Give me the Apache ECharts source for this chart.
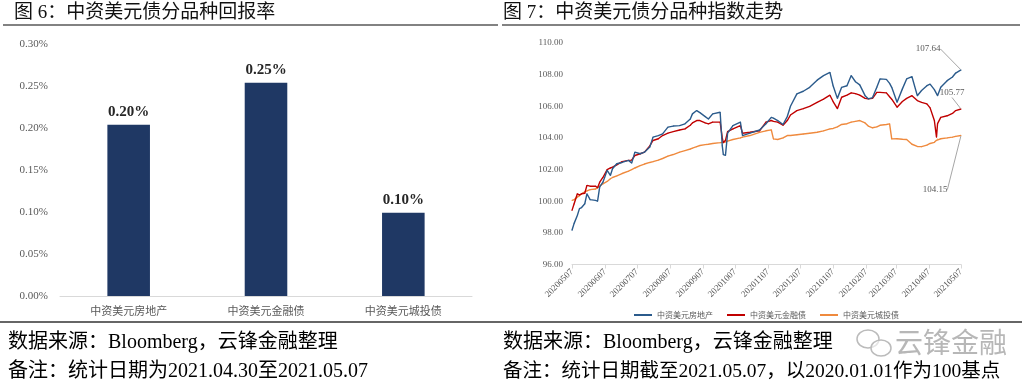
<!DOCTYPE html>
<html><head><meta charset="utf-8">
<script src="https://cdn.jsdelivr.net/npm/echarts@6/dist/echarts.min.js"></script>
<style>html,body{margin:0;padding:0;background:#fff}#c{width:1022px;height:383px}</style>
</head><body><div id="c"></div>
<script>
// ---- Figure 6: bar chart ----
const barCategories = ['中资美元房地产', '中资美元金融债', '中资美元城投债'];
const barValues = [0.204, 0.254, 0.099]; // percent

// ---- Figure 7: line chart ----
const lineNames = ['中资美元房地产', '中资美元金融债', '中资美元城投债'];
const xTickLabels = ['20200507','20200607','20200707','20200807','20200907','20201007','20201107',
  '20201207','20210107','20210207','20210307','20210407','20210507'];
const dates = [
  '20200507','20200509','20200512','20200514','20200516','20200519','20200521','20200524','20200529','20200531',
  '20200602','20200605','20200609','20200612','20200614','20200618','20200623','20200629','20200702','20200705',
  '20200710','20200714','20200719','20200722','20200727','20200731','20200805','20200810','20200816','20200821',
  '20200826','20200828','20200901','20200904','20200909','20200912','20200916','20200923','20200925','20200926',
  '20200928','20200930','20201005','20201012','20201014','20201021','20201030','20201105','20201110','20201112',
  '20201116','20201121','20201125','20201128','20201204','20201210','20201216','20201223','20201229','20210104',
  '20210107','20210111','20210115','20210120','20210124','20210128','20210201','20210206','20210209','20210213',
  '20210217','20210220','20210226','20210301','20210303','20210308','20210313','20210317','20210322','20210327',
  '20210331','20210405','20210408','20210412','20210414','20210415','20210418','20210424','20210429','20210502',
  '20210507'];
const realEstate = [
  98.16,98.60,99.10,99.53,99.60,99.84,100.47,100.10,100.05,100.00,
  100.90,101.20,101.95,101.63,102.05,102.37,102.45,102.58,102.41,103.10,
  103.00,103.10,103.42,104.05,104.15,104.26,104.68,104.75,104.78,104.89,
  105.20,105.52,105.73,105.60,105.35,105.20,105.52,105.62,103.50,102.95,
  102.90,104.30,104.78,105.00,104.15,104.30,104.50,104.90,105.30,105.25,
  105.10,104.85,105.35,106.00,106.78,106.95,107.20,107.65,107.94,108.14,
  107.30,106.50,107.20,107.30,107.94,107.55,107.35,106.67,106.47,106.55,
  107.20,107.73,107.70,107.45,107.20,106.25,107.10,107.73,107.87,106.67,
  107.00,107.30,107.40,107.05,106.80,106.67,107.20,107.62,107.85,108.10,
  108.30];
const financial = [
  99.42,99.84,100.47,100.40,100.47,100.50,101.00,100.95,100.95,100.85,
  101.20,101.50,102.00,102.10,102.15,102.30,102.50,102.58,102.60,102.89,
  103.00,103.10,103.50,103.84,103.95,104.15,104.30,104.40,104.50,104.57,
  104.80,104.95,105.10,105.10,104.95,104.89,105.00,105.00,104.00,103.70,
  103.85,104.40,104.57,104.78,104.30,104.36,104.45,105.00,105.10,105.05,
  105.00,104.80,105.10,105.45,105.73,105.85,106.00,106.25,106.45,106.70,
  106.30,105.85,106.57,106.70,106.85,106.80,106.70,106.50,106.47,106.50,
  106.88,106.88,106.85,106.60,106.45,105.94,106.30,106.50,106.67,106.36,
  106.25,106.15,105.90,105.10,104.05,104.90,105.30,105.40,105.55,105.73,
  105.83];
const lgfv = [
  100.05,100.10,100.26,100.35,100.47,100.60,100.65,100.73,100.77,100.85,
  100.95,101.10,101.25,101.42,101.50,101.60,101.75,101.90,102.00,102.10,
  102.25,102.35,102.45,102.50,102.60,102.70,102.85,102.95,103.10,103.20,
  103.30,103.35,103.45,103.52,103.58,103.60,103.65,103.70,103.72,103.73,
  103.75,103.80,103.90,104.00,104.05,104.15,104.35,104.45,104.51,103.94,
  103.90,104.00,104.15,104.15,104.20,104.25,104.30,104.36,104.45,104.57,
  104.60,104.70,104.85,104.90,105.00,105.05,105.10,104.95,104.75,104.64,
  104.70,104.80,104.85,104.89,103.94,103.95,103.92,103.90,103.60,103.46,
  103.45,103.55,103.65,103.72,103.85,103.94,103.95,104.00,104.05,104.10,
  104.15];
const endLabels = ['107.64', '105.77', '104.15'];

const CJK = '"Liberation Serif", "Noto Sans CJK SC", serif';
const CJKS = '"Noto Sans CJK SC", sans-serif';
const SERIF = '"Liberation Serif", serif';
const gray = '#595959';

function ts(s) { return Date.UTC(+s.slice(0,4), +s.slice(4,6)-1, +s.slice(6,8)); }
const t0 = ts(xTickLabels[0]);
function dayOffset(s) { return Math.round((ts(s) - t0) / 86400000); }
const tickOffsets = xTickLabels.map(dayOffset);
function tickLabel(v) { const i = tickOffsets.indexOf(Math.round(v)); return i >= 0 ? xTickLabels[i] : ''; }

function lineData(vals, k) {
  return vals.map((v, i) => i === vals.length - 1
    ? { value: [dayOffset(dates[i]), v], label: { show: true, formatter: endLabels[k] } }
    : [dayOffset(dates[i]), v]);
}
const lineColors = ['#2b5b8c', '#c00000', '#ef8a3e'];
const labelOffsets = [{dx: -33, dy: -11}, {dx: -9, dy: -6}, {dx: -26, dy: 64}];
const lineSeriesData = [realEstate, financial, lgfv];

const chart = echarts.init(document.getElementById('c'), null, {renderer: 'canvas'});
const option = {
  animation: false,
  backgroundColor: '#fff',
  grid: [
    {left: 60, top: 44, width: 412, height: 252},
    {left: 572, top: 43, width: 389, height: 221.5}
  ],
  legend: {
    data: lineNames, left: 629, top: 306, icon: 'rect', itemWidth: 18, itemHeight: 2, itemGap: 14,
    textStyle: {fontSize: 8, color: gray, fontFamily: CJKS}
  },
  xAxis: [
    {type: 'category', gridIndex: 0, data: barCategories,
     axisLine: {lineStyle: {color: '#d9d9d9'}}, axisTick: {show: false},
     axisLabel: {fontSize: 11, color: gray, fontFamily: CJKS, margin: 9}},
    {type: 'value', gridIndex: 1, min: tickOffsets[0], max: tickOffsets[tickOffsets.length-1],
     axisLine: {lineStyle: {color: '#d9d9d9'}},
     axisTick: {show: true, customValues: tickOffsets, length: 4, lineStyle: {color: '#d9d9d9'}},
     splitLine: {show: false},
     axisLabel: {customValues: tickOffsets, rotate: 45, fontSize: 9, color: gray, fontFamily: SERIF, margin: 6,
       formatter: v => tickLabel(v), hideOverlap: false}}
  ],
  yAxis: [
    {type: 'value', gridIndex: 0, min: 0, max: 0.3, interval: 0.05,
     splitLine: {show: false}, axisLine: {show: false}, axisTick: {show: false},
     axisLabel: {formatter: v => v.toFixed(2) + '%', fontSize: 11, color: gray, fontFamily: SERIF, margin: 12}},
    {type: 'value', gridIndex: 1, min: 96, max: 110, interval: 2,
     splitLine: {show: false}, axisLine: {show: false}, axisTick: {show: false},
     axisLabel: {formatter: v => v.toFixed(2), fontSize: 9, color: gray, fontFamily: SERIF, margin: 9}}
  ],
  series: [
    {type: 'bar', xAxisIndex: 0, yAxisIndex: 0, data: barValues, barWidth: '31%',
     itemStyle: {color: '#1f3864'},
     label: {show: true, position: 'top', distance: 5, formatter: p => p.value.toFixed(2) + '%',
       fontSize: 15, fontWeight: 'bold', fontFamily: SERIF, color: '#262626'}}
  ].concat(lineNames.map((name, k) => ({
    type: 'line', name: name, xAxisIndex: 1, yAxisIndex: 1,
    data: lineData(lineSeriesData[k], k),
    showSymbol: true, symbol: 'circle', symbolSize: 1,
    itemStyle: {color: lineColors[k]},
    lineStyle: {color: lineColors[k], width: 1.4},
    label: {show: false, fontSize: 9, color: gray, fontFamily: SERIF},
    labelLayout: labelOffsets[k],
    labelLine: {show: true, lineStyle: {color: '#a6a6a6', width: 1}},
    emphasis: {disabled: true},
    z: 3 - k
  }))),
  graphic: [
    {type: 'text', x: 14, y: 13, style: {text: '图 6：中资美元债分品种回报率', font: '19px ' + CJK, fill: '#111', textVerticalAlign: 'middle'}},
    {type: 'text', x: 503, y: 13, style: {text: '图 7：中资美元债分品种指数走势', font: '19px ' + CJK, fill: '#111', textVerticalAlign: 'middle'}},
    {type: 'line', shape: {x1: 3, y1: 25, x2: 498, y2: 25}, style: {stroke: '#595959', lineWidth: 1.5}},
    {type: 'line', shape: {x1: 502, y1: 25, x2: 1020, y2: 25}, style: {stroke: '#595959', lineWidth: 1.5}},
    {type: 'line', shape: {x1: 0, y1: 322, x2: 1022, y2: 322}, style: {stroke: '#333', lineWidth: 1.5}},
    {type: 'text', x: 8, y: 343, style: {text: '数据来源：Bloomberg，云锋金融整理', font: '20px ' + CJK, fill: '#000', textVerticalAlign: 'middle'}},
    {type: 'text', x: 8, y: 372, style: {text: '备注：统计日期为2021.04.30至2021.05.07', font: '20px ' + CJK, fill: '#000', textVerticalAlign: 'middle'}},
    {type: 'text', x: 503, y: 343, style: {text: '数据来源：Bloomberg，云锋金融整理', font: '20px ' + CJK, fill: '#000', textVerticalAlign: 'middle'}},
    {type: 'text', x: 503, y: 372, style: {text: '备注：统计日期截至2021.05.07，以2020.01.01作为100基点', font: '19.5px ' + CJK, fill: '#000', textVerticalAlign: 'middle'}},
    {type: 'ellipse', shape: {cx: 868, cy: 339, rx: 11, ry: 9}, style: {fill: 'rgba(255,255,255,0.6)', stroke: '#bbb', lineWidth: 1.5}},
    {type: 'ellipse', shape: {cx: 881, cy: 348, rx: 10, ry: 8}, style: {fill: 'rgba(255,255,255,0.6)', stroke: '#bbb', lineWidth: 1.5}},
    {type: 'text', x: 895, y: 342, style: {text: '云锋金融', font: '28px ' + CJKS, fill: 'rgba(165,165,165,0.8)', textVerticalAlign: 'middle'}}
  ]
};
chart.setOption(option);
</script></body></html>
